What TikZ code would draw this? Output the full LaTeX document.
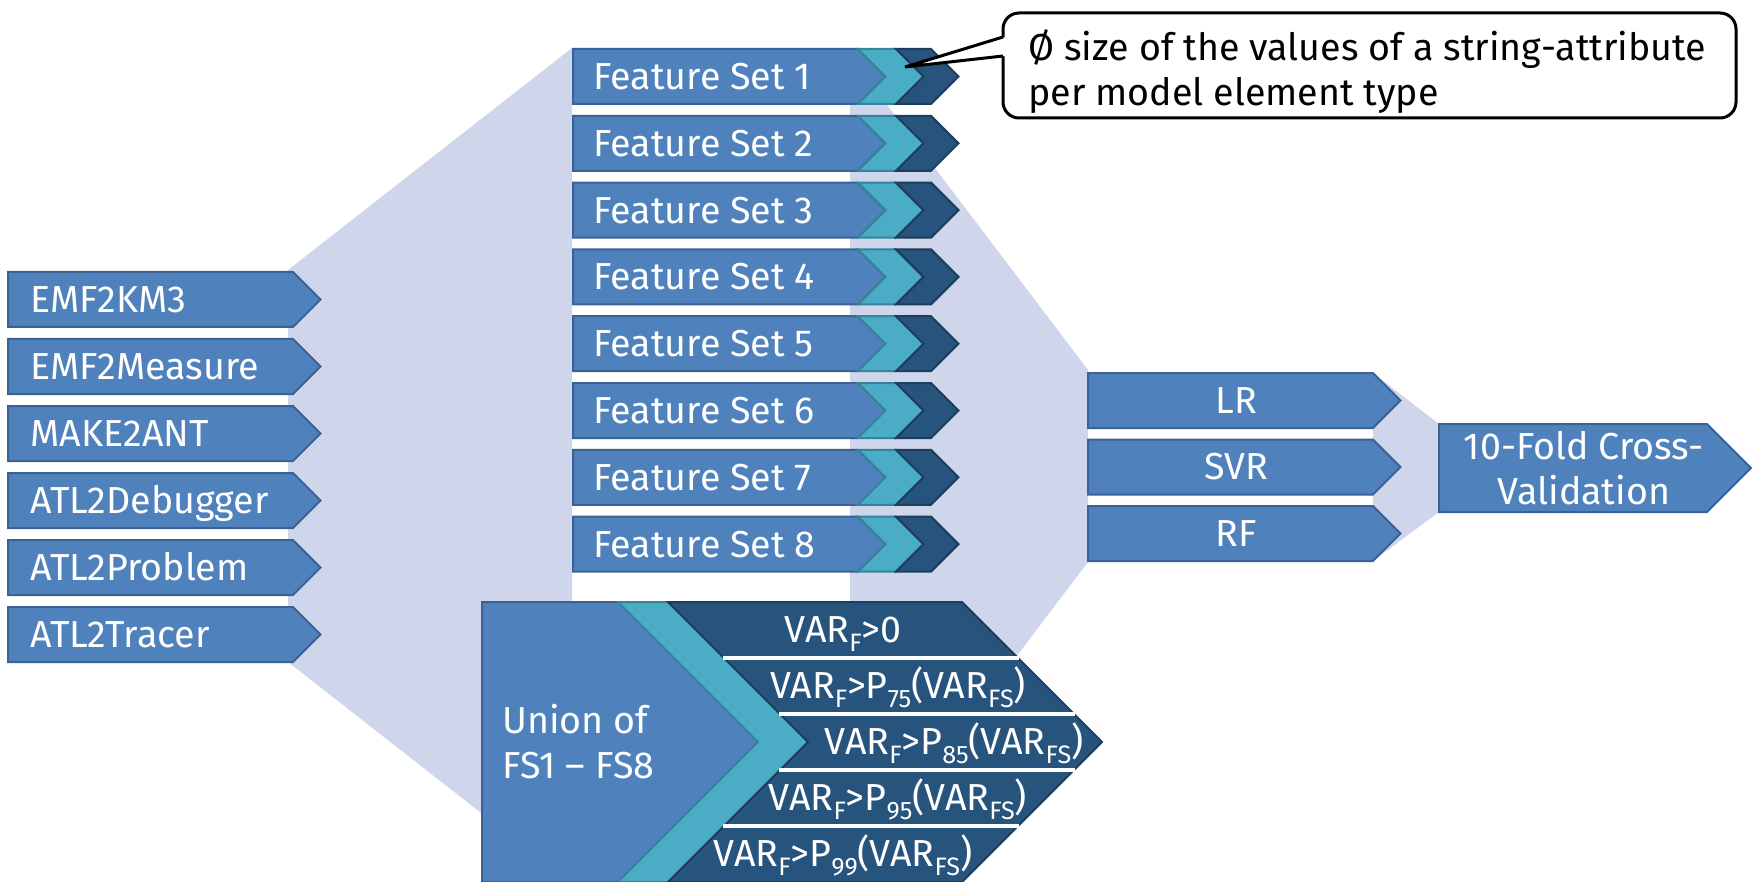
\documentclass[tikz,border=0pt]{standalone}
\usepackage{fontspec}
\setmainfont{Fira Sans}
\definecolor{boxblue}{HTML}{4F81BD}
\definecolor{boxblueline}{HTML}{3A6296}
\definecolor{aqua}{HTML}{4BACC6}
\definecolor{aqualine}{HTML}{35849A}
\definecolor{navy}{HTML}{27547D}
\definecolor{navyline}{HTML}{1C3D5E}
\definecolor{lavender}{HTML}{CFD5EA}
% lowered, smaller index text in the running font
\newcommand\idx[1]{\raisebox{-0.24em}{\fontsize{12.6}{12.6}\selectfont #1}}
\begin{document}
\begin{tikzpicture}[x=0.5pt,y=-0.5pt,
  every node/.style={font=\fontsize{18.8}{22.5}\selectfont, inner sep=0pt},
  funnel/.style={fill=lavender},
  bluebox/.style={fill=boxblue,draw=boxblueline,line width=1pt,line join=miter},
  aquabox/.style={fill=aqua,draw=aqualine,line width=1pt,line join=miter},
  navybox/.style={fill=navy,draw=navyline,line width=1pt,line join=miter},
  lbl/.style={text=white,text height=12.95pt,text depth=0pt},
  multi/.style={text=white,align=#1},
  divider/.style={draw=white,line width=1.6pt},
  callout/.style={fill=white,draw=black,line width=1.5pt},
]
\useasboundingbox (0,0) rectangle (1762,882);
\clip (0,0) rectangle (1762,882);

% funnels behind the stages
\path[funnel] (288,270) -- (572,48) -- (572,884) -- (288,662) -- cycle;
\path[funnel] (850,56) -- (1088,370) -- (1088,562) -- (850,876) -- cycle;
\path[funnel] (1373,373) -- (1439,424) -- (1439,512) -- (1373,561) -- cycle;

% input transformations
\foreach \t [count=\i from 0] in {EMF2KM3,EMF2Measure,MAKE2ANT,ATL2Debugger,ATL2Problem,ATL2Tracer} {
  \pgfmathsetmacro\c{299.5+67*\i}
  \draw[bluebox] (8,\c-27.5) -- (293,\c-27.5) -- (320.5,\c) -- (293,\c+27.5) -- (8,\c+27.5) -- cycle;
  \node[lbl,anchor=west] (in\i) at (30,\c) {\t};
}

% feature sets
\foreach \i in {1,...,8} {
  \pgfmathsetmacro\c{76.5+66.8*(\i-1)}
  \draw[bluebox] (573,\c-27.5) -- (858,\c-27.5) -- (885.5,\c) -- (858,\c+27.5) -- (573,\c+27.5) -- cycle;
  \draw[aquabox] (858,\c-27.5) -- (896,\c-27.5) -- (923.5,\c) -- (896,\c+27.5) -- (858,\c+27.5) -- (885.5,\c) -- cycle;
  \draw[navybox] (896,\c-27.5) -- (931,\c-27.5) -- (958.5,\c) -- (931,\c+27.5) -- (896,\c+27.5) -- (923.5,\c) -- cycle;
  \node[lbl,anchor=west] (fs\i) at (593,\c) {Feature Set \i};
}

% union of all feature sets with variance filters
\draw[bluebox] (482,602) -- (618,602) -- (758,742) -- (618,882) -- (482,882) -- cycle;
\draw[aquabox] (618,602) -- (668,602) -- (808,742) -- (668,882) -- (618,882) -- (758,742) -- cycle;
\draw[navybox] (668,602) -- (962,602) -- (1102,742) -- (962,882) -- (668,882) -- (808,742) -- cycle;
\draw[divider] (723,658) -- (1019,658);
\draw[divider] (779,714) -- (1075,714);
\draw[divider] (779,770) -- (1075,770);
\draw[divider] (723,826) -- (1019,826);
\node[multi=left,anchor=west] (union) at (502,742) {Union of\\FS1 – FS8};
\node[lbl] (v0) at (843,630) {VAR\idx{F}>0};
\node[lbl] (v1) at (898,686) {VAR\idx{F}>P\idx{75}(VAR\idx{FS})};
\node[lbl] (v2) at (954,742) {VAR\idx{F}>P\idx{85}(VAR\idx{FS})};
\node[lbl] (v3) at (898,798) {VAR\idx{F}>P\idx{95}(VAR\idx{FS})};
\node[lbl] (v4) at (843,854) {VAR\idx{F}>P\idx{99}(VAR\idx{FS})};

% learners
\foreach \t [count=\i from 0] in {LR,SVR,RF} {
  \pgfmathsetmacro\c{400.5+66.5*\i}
  \draw[bluebox] (1088,\c-27.5) -- (1373,\c-27.5) -- (1400.5,\c) -- (1373,\c+27.5) -- (1088,\c+27.5) -- cycle;
  \node[lbl] (ml\i) at (1236,\c) {\t};
}

% evaluation
\draw[bluebox] (1439,424) -- (1707,424) -- (1751,468) -- (1707,512) -- (1439,512) -- cycle;
\node[multi=center] (cv) at (1584,468) {10-Fold Cross-\\Validation};

% annotation for feature set 1
\coordinate (tip) at (905,67);
\draw[callout,rounded corners=8pt] (1003,13) rectangle (1736,118);
\fill[white] (1006,37) -- (tip) -- (1006,56) -- cycle;
\draw[line width=1.5pt,line join=miter] (1003,37) -- (tip) -- (1003,56);
\node[anchor=west,align=left] (note) at (1028,72) {Ø size of the values of a string-attribute\\per model element type};
\end{tikzpicture}
\end{document}
